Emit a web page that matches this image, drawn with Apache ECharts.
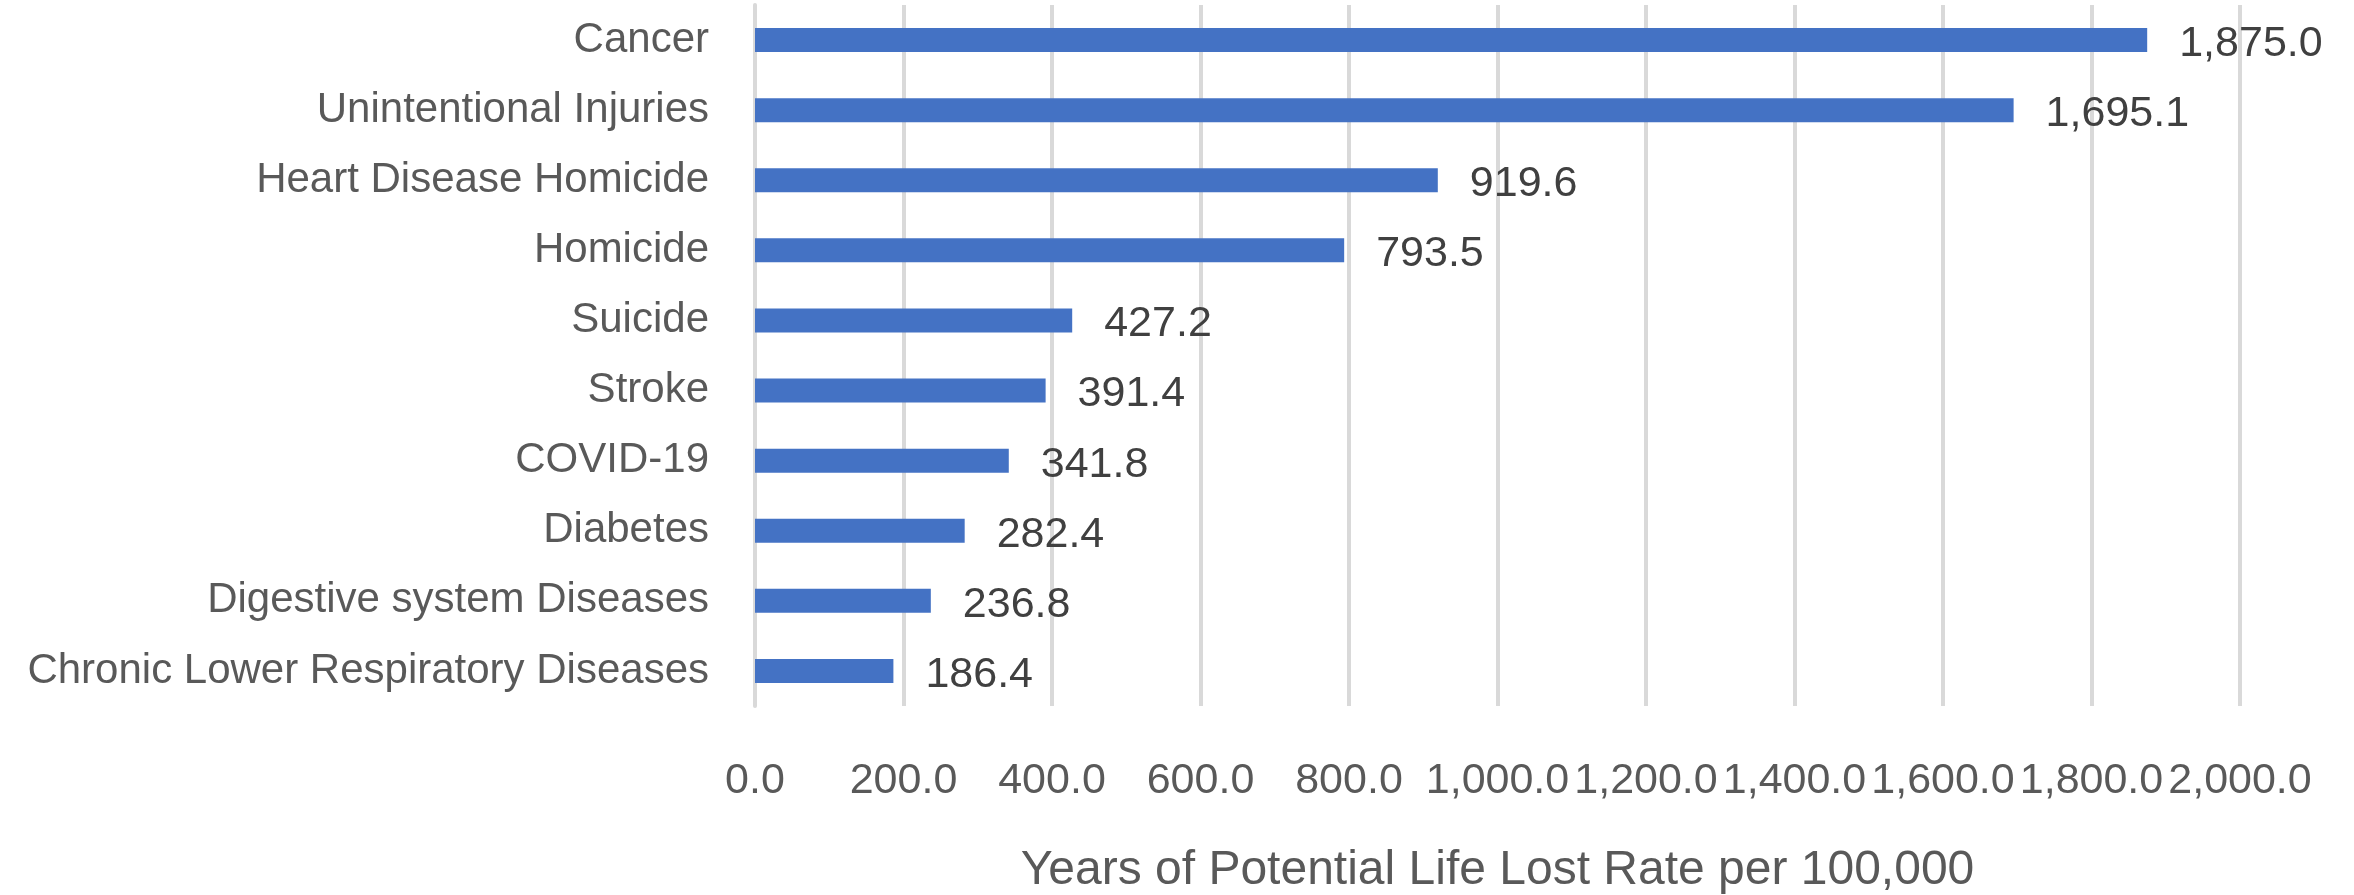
<!DOCTYPE html>
<html>
<head>
<meta charset="utf-8">
<title>Years of Potential Life Lost</title>
<script src="https://cdn.jsdelivr.net/npm/echarts@6/dist/echarts.min.js"></script>
<style>
  html, body { margin: 0; padding: 0; background: #fff; }
  #chart { width: 2354px; height: 895px; }
</style>
</head>
<body>
<div id="chart"></div>
<script>
var categories = ['Cancer', 'Unintentional Injuries', 'Heart Disease Homicide', 'Homicide', 'Suicide',
  'Stroke', 'COVID-19', 'Diabetes', 'Digestive system Diseases', 'Chronic Lower Respiratory Diseases'];
var values = [1875.0, 1695.1, 919.6, 793.5, 427.2, 391.4, 341.8, 282.4, 236.8, 186.4];
var axisMin = 0, axisMax = 2000, axisStep = 200;
var axisTitle = 'Years of Potential Life Lost Rate per 100,000';

var fontName = '"Liberation Sans", Arial, sans-serif';
var fmt = new Intl.NumberFormat('en-US', { minimumFractionDigits: 1, maximumFractionDigits: 1 });

var chart = echarts.init(document.getElementById('chart'));
chart.setOption({
  animation: false,
  grid: { left: 755, right: 114, top: 5, bottom: 189, containLabel: false, outerBoundsMode: 'none' },
  xAxis: {
    type: 'value',
    min: axisMin,
    max: axisMax,
    interval: axisStep,
    name: axisTitle,
    nameLocation: 'middle',
    nameGap: 141,
    nameTextStyle: { fontFamily: fontName, fontSize: 48, color: '#595959' },
    axisLine: { show: false },
    axisTick: { show: false },
    axisLabel: {
      margin: 54,
      fontFamily: fontName,
      fontSize: 43,
      color: '#595959',
      showMinLabel: true,
      showMaxLabel: true,
      hideOverlap: false,
      formatter: function (v) { return fmt.format(v); }
    },
    splitLine: { show: true, lineStyle: { color: '#d9d9d9', width: 4 } }
  },
  yAxis: {
    type: 'category',
    data: categories,
    inverse: true,
    axisLine: { show: true, lineStyle: { color: '#d9d9d9', width: 4 } },
    axisTick: { show: false },
    axisLabel: { margin: 46, fontFamily: fontName, fontSize: 42, color: '#595959' }
  },
  series: [{
    type: 'bar',
    data: values,
    barWidth: 24,
    itemStyle: { color: '#4472c4' },
    label: {
      show: true,
      position: 'right',
      distance: 32,
      offset: [0, 4],
      fontFamily: fontName,
      fontSize: 43,
      color: '#404040',
      formatter: function (p) { return fmt.format(p.value); }
    }
  }]
});
</script>
</body>
</html>
